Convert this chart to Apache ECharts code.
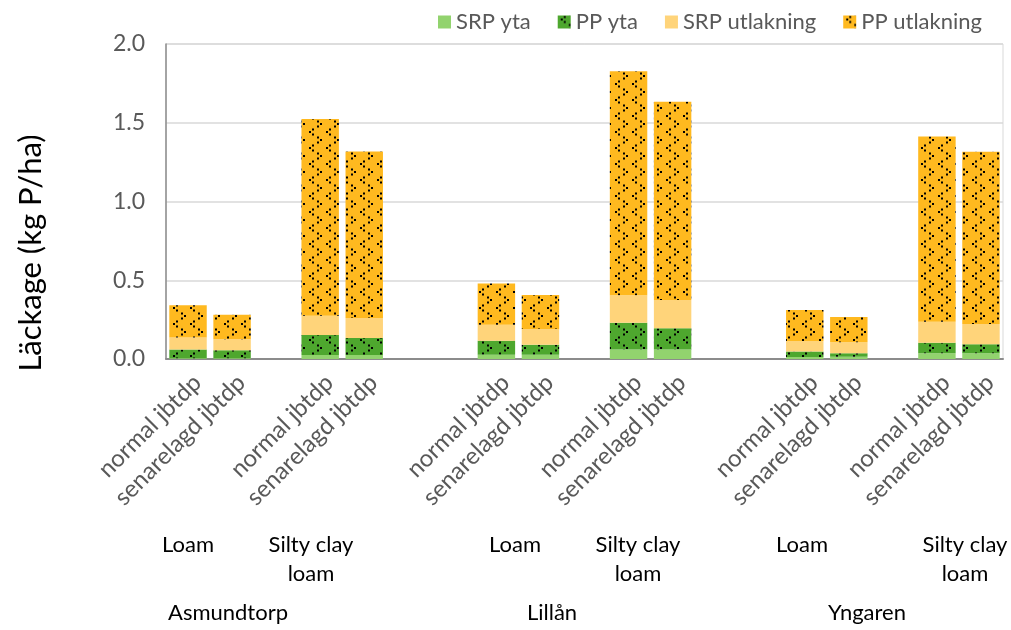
<!DOCTYPE html>
<html>
<head>
<meta charset="utf-8">
<script src="https://cdn.jsdelivr.net/npm/echarts@6/dist/echarts.min.js"></script>
<style>
  html, body { margin: 0; padding: 0; background: #fff; }
  #chart { width: 1011px; height: 630px; }
</style>
</head>
<body>
<div id="chart"></div>
<script>
// kategorier (tomma platser = mellanrum mellan grupper)
const categories = [
  "normal jbtdp", "senarelagd jbtdp", "", "normal jbtdp", "senarelagd jbtdp", "", "",
  "normal jbtdp", "senarelagd jbtdp", "", "normal jbtdp", "senarelagd jbtdp", "", "",
  "normal jbtdp", "senarelagd jbtdp", "", "normal jbtdp", "senarelagd jbtdp"
];
const seriesNames = ["SRP yta", "PP yta", "SRP utlakning", "PP utlakning"];
const srpYta = [0.005, 0.005, "-", 0.025, 0.025, "-", "-", 0.027, 0.027, "-", 0.06, 0.06, "-", "-", 0.012, 0.015, "-", 0.037, 0.037];
const ppYta = [0.055, 0.051, "-", 0.127, 0.108, "-", "-", 0.089, 0.064, "-", 0.17, 0.135, "-", "-", 0.035, 0.021, "-", 0.066, 0.056];
const srpUtl = [0.076, 0.07, "-", 0.123, 0.127, "-", "-", 0.102, 0.1, "-", 0.175, 0.18, "-", "-", 0.068, 0.07, "-", 0.134, 0.129];
const ppUtl = [0.205, 0.155, "-", 1.249, 1.058, "-", "-", 0.262, 0.215, "-", 1.422, 1.259, "-", "-", 0.196, 0.161, "-", 1.176, 1.094];
const soilLabels = ["Loam", "Silty clay\nloam", "Loam", "Silty clay\nloam", "Loam", "Silty clay\nloam"];
const siteLabels = ["Asmundtorp", "Lillån", "Yngaren"];

const FONT = "Lato, 'Liberation Sans', sans-serif";

// prickmönster (små vinklar < och >)
function makePattern(bg) {
  const c = document.createElement("canvas");
  c.width = 17;
  c.height = 16;
  const ctx = c.getContext("2d");
  ctx.fillStyle = bg;
  ctx.fillRect(0, 0, 17, 16);
  ctx.fillStyle = "#000";
  const d = 2;
  // "<"
  ctx.fillRect(6, 0.5, d, d);
  ctx.fillRect(3, 3, d, d);
  ctx.fillRect(6, 5.5, d, d);
  // ">"
  ctx.fillRect(11, 8.5, d, d);
  ctx.fillRect(14, 11, d, d);
  ctx.fillRect(11, 13.5, d, d);
  return { image: c, repeat: "repeat" };
}

const colors = [
  "#92d36e",
  makePattern("#4ea72e"),
  "#ffd47a",
  makePattern("#ffb91f")
];
const dataList = [srpYta, ppYta, srpUtl, ppUtl];

const chart = echarts.init(document.getElementById("chart"));

const soilX = [188, 311, 515, 638, 802, 965];
const siteX = [228, 552, 867];
const graphics = [];
soilLabels.forEach((t, i) => {
  graphics.push({
    type: "text",
    x: soilX[i],
    y: 530,
    style: { text: t, font: "22px " + FONT, fill: "#000", align: "center", lineHeight: 29 }
  });
});
siteLabels.forEach((t, i) => {
  graphics.push({
    type: "text",
    x: siteX[i],
    y: 602,
    style: { text: t, font: "22px " + FONT, fill: "#000", align: "center" }
  });
});
graphics.push({
  type: "text",
  x: 31,
  y: 253,
  rotation: Math.PI / 2,
  style: { text: "Läckage (kg P/ha)", font: "31px " + FONT, fill: "#000", align: "center", verticalAlign: "middle" }
});

const option = {
  animation: false,
  textStyle: { fontFamily: FONT },
  legend: {
    data: seriesNames,
    right: 24,
    top: 6,
    icon: "rect",
    itemWidth: 13,
    itemHeight: 13,
    itemGap: 27,
    textStyle: { fontSize: 22, color: "#595959", fontFamily: FONT }
  },
  grid: {
    left: 166,
    right: 8,
    top: 44,
    bottom: 271,
    show: true,
    borderColor: "#d9d9d9",
    borderWidth: 1
  },
  xAxis: {
    type: "category",
    data: categories,
    axisTick: { show: false },
    axisLine: { lineStyle: { color: "#8c8c8c", width: 2 } },
    axisLabel: {
      interval: 0,
      rotate: 45,
      margin: 29,
      padding: [0, -13, 0, 0],
      fontSize: 24,
      color: "#595959",
      fontFamily: FONT
    }
  },
  yAxis: {
    type: "value",
    min: 0,
    max: 2,
    interval: 0.5,
    axisLine: { show: true, lineStyle: { color: "#8c8c8c", width: 1.5 } },
    axisTick: { show: false },
    splitLine: { lineStyle: { color: "#d9d9d9", width: 1.5 } },
    axisLabel: {
      margin: 21,
      fontSize: 23,
      color: "#595959",
      fontFamily: FONT,
      formatter: v => v.toFixed(1)
    }
  },
  series: seriesNames.map((name, i) => ({
    name: name,
    type: "bar",
    stack: "total",
    barCategoryGap: "15%",
    data: dataList[i],
    itemStyle: { color: colors[i] }
  })),
  graphic: graphics
};

chart.setOption(option);
window.addEventListener("resize", function() {
  chart.resize();
});
</script>
</body>
</html>
